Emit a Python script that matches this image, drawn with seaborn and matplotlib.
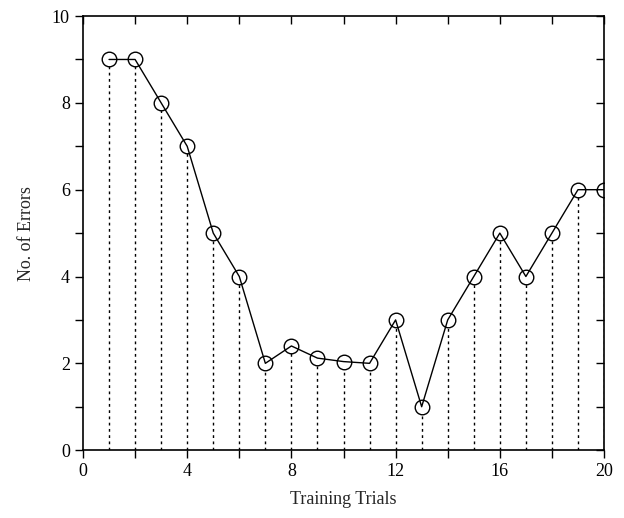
import numpy as np
import pandas as pd
import seaborn as sns
import matplotlib.pyplot as plt
from matplotlib.ticker import MultipleLocator

# data
trials = list(range(1, 21))
errors = [9, 9, 8, 7, 5, 4, 2, 2.4, 2.12, 2.04, 2, 3, 1, 3, 4, 5, 4, 5, 6, 6]

df = pd.DataFrame({"trial": trials, "errors": errors})

sns.set_style("ticks")
plt.rcParams['font.family'] = ['Liberation Serif', 'DejaVu Serif']

fig = plt.figure(figsize=(6.24, 5.18), dpi=100)
ax = fig.add_axes([0.133, 0.131, 0.835, 0.838])

# dotted drop lines from the x axis up to each point
ax.vlines(df["trial"], 0, df["errors"], colors="black", linestyles=(0, (2, 2.5)),
          linewidth=1, zorder=1)

# open circles (white inside so the drop lines stop at the rim)
sns.scatterplot(data=df, x="trial", y="errors", ax=ax, marker="o", s=110,
                facecolor="white", edgecolor="black", linewidth=1, zorder=2)
# connecting line drawn over the markers
sns.lineplot(data=df, x="trial", y="errors", ax=ax, color="black", linewidth=1, zorder=3)

ax.set_xlim(0, 20)
ax.set_ylim(0, 10)
ax.xaxis.set_major_locator(MultipleLocator(4))
ax.xaxis.set_minor_locator(MultipleLocator(2))
ax.yaxis.set_major_locator(MultipleLocator(2))
ax.yaxis.set_minor_locator(MultipleLocator(1))

ax.tick_params(which="both", direction="out", top=True, right=True,
               labelsize=13, colors="black", width=1)
ax.tick_params(which="major", length=6)
ax.tick_params(which="minor", length=6)
# top and right ticks point inward
for t in ax.xaxis.get_major_ticks() + ax.xaxis.get_minor_ticks():
    t.tick2line.set_marker(3)
for t in ax.yaxis.get_major_ticks() + ax.yaxis.get_minor_ticks():
    t.tick2line.set_marker(0)

for s in ax.spines.values():
    s.set_linewidth(1.2)
    s.set_color("black")

ax.set_xlabel("Training Trials", fontsize=13, labelpad=8)
ax.set_ylabel("No. of Errors", fontsize=13, labelpad=12)

fig.savefig("out.png", dpi=100)
